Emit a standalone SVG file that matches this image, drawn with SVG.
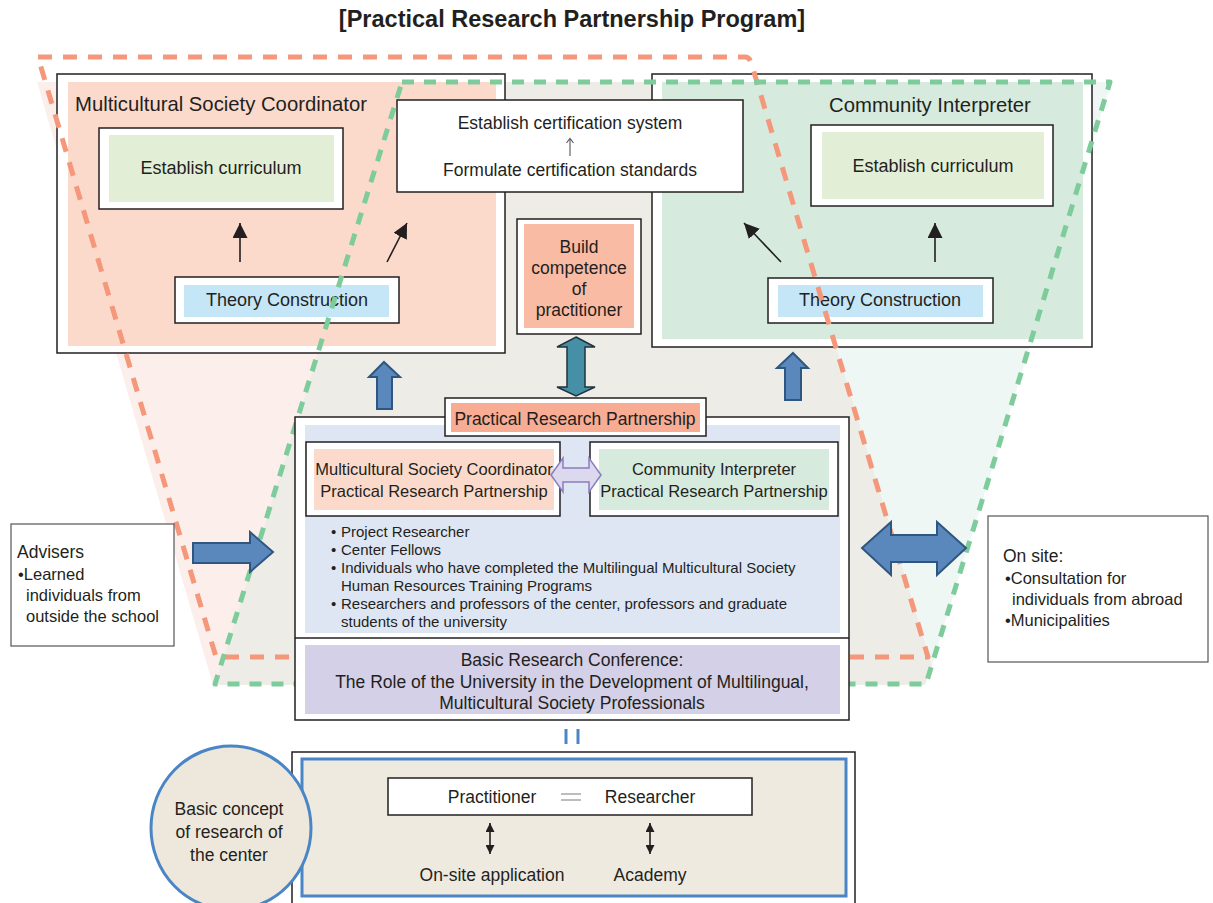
<svg xmlns="http://www.w3.org/2000/svg" width="1213" height="903" viewBox="0 0 1213 903">
<style>
text{font-family:"Liberation Sans",Arial,sans-serif;fill:#231F20}
.t18{font-size:18px}
.t17{font-size:17.5px}
.t16{font-size:16.5px}
.t15{font-size:15px}
.c{text-anchor:middle}
.box{fill:#fff;stroke:#231F20;stroke-width:1.5}
.dashO{fill:none;stroke:#F4977A;stroke-width:5;stroke-dasharray:14 11;stroke-linejoin:round}
.dashG{fill:none;stroke:#7ECB9B;stroke-width:5;stroke-dasharray:12 10;stroke-linejoin:round}
.blk{stroke:#231F20;stroke-width:1.6;fill:none}
.blue{fill:#5A88BC;stroke:#2F5680;stroke-width:2}
</style>
<defs>
<marker id="ah" viewBox="0 0 10 10" refX="10" refY="5" markerWidth="15" markerHeight="15" markerUnits="userSpaceOnUse" orient="auto-start-reverse">
<path d="M0,0 L10,5 L0,10 Z" fill="#231F20"/>
</marker>
<marker id="ahs" viewBox="0 0 10 10" refX="10" refY="5" markerWidth="9" markerHeight="9" markerUnits="userSpaceOnUse" orient="auto-start-reverse">
<path d="M0,0 L10,5 L0,10 Z" fill="#231F20"/>
</marker>
</defs>
<rect width="1213" height="903" fill="#fff"/>
<text x="572" y="27" class="c" style="font-size:23.5px;font-weight:bold">[Practical Research Partnership Program]</text>

<g id="zones">
<polygon points="37,82 402,82 216,685 213,685" fill="#FCEFEB"/>
<polygon points="402,82 757,82 932,665 925,685 215,685" fill="#EEECE6"/>
<polygon points="757,82 1111,82 932,665" fill="#EEF7F3"/>
</g>

<g id="msc">
<rect x="57" y="74" width="448" height="279" class="box"/>
<rect x="68" y="82" width="428" height="264" fill="#FBDACC"/>
<text x="75" y="111" style="font-size:20.3px">Multicultural Society Coordinator</text>
</g>
<g id="msc-curriculum">
<rect x="99" y="128" width="244" height="81" class="box"/>
<rect x="109" y="135" width="225" height="67" fill="#E2EED6"/>
<text x="221" y="174" class="c t18">Establish curriculum</text>
</g>
<g id="msc-theory">
<rect x="175" y="277" width="224" height="46" class="box"/>
<rect x="184" y="285" width="205" height="32" fill="#C5E6F6"/>
<text x="287" y="306" class="c t18">Theory Construction</text>
</g>

<g id="ci">
<rect x="652" y="74" width="440" height="273" class="box"/>
<rect x="662" y="82" width="421" height="257" fill="#D6EBDD"/>
<text x="930" y="112" class="c" style="font-size:20.3px">Community Interpreter</text>
</g>
<g id="ci-curriculum">
<rect x="811" y="125" width="242" height="81" class="box"/>
<rect x="822" y="132" width="222" height="67" fill="#E2EED6"/>
<text x="933" y="172" class="c t18">Establish curriculum</text>
</g>
<g id="ci-theory">
<rect x="768" y="278" width="225" height="45" class="box"/>
<rect x="778" y="285" width="205" height="32" fill="#C5E6F6"/>
<text x="880" y="306" class="c t18">Theory Construction</text>
</g>

<g id="certification">
<rect x="397" y="100" width="346" height="92" class="box"/>
<text x="570" y="129" class="c t17">Establish certification system</text>
<line x1="570" y1="156" x2="570" y2="139" stroke="#555" stroke-width="1.1"/>
<polyline points="566.5,143 570,138.5 573.5,143" fill="none" stroke="#555" stroke-width="1.1"/>
<text x="570" y="176" class="c t17">Formulate certification standards</text>
</g>

<g id="build">
<rect x="517" y="219" width="124" height="115" class="box"/>
<rect x="524" y="224" width="110" height="104" fill="#F9BBA3"/>
<text x="579" y="253" class="c t17">Build</text>
<text x="579" y="274" class="c t17">competence</text>
<text x="579" y="295" class="c t17">of</text>
<text x="579" y="316" class="c t17">practitioner</text>
</g>

<g id="connectors">
<line x1="240" y1="262" x2="240" y2="223" class="blk" marker-end="url(#ah)"/>
<line x1="387" y1="262" x2="407" y2="223" class="blk" marker-end="url(#ah)"/>
<line x1="935" y1="262" x2="935" y2="223" class="blk" marker-end="url(#ah)"/>
<line x1="781" y1="262" x2="744" y2="223" class="blk" marker-end="url(#ah)"/>
</g>

<g id="outlines">
<path d="M38,57 L745,57 Q749,57 751,62 L928,657 L216,657 Z" class="dashO"/>
<path d="M402,82 L1110,82 L926,684 L215,684 Z" class="dashG"/>
</g>

<g id="arrows">
<polygon points="384,362 400,377 392,377 392,409 377,409 377,377 369,377" class="blue"/>
<polygon points="793,353 808,368 801,368 801,400 785,400 785,368 777,368" class="blue"/>
<polygon points="576,337 595,347 585,347 585,387 595,387 576,396 557,387 567,387 567,347 557,347" fill="#4590A6" stroke="#22333D" stroke-width="1.5"/>
<polygon points="193,543 250,543 250,532 273,552 250,572 250,563 193,563" class="blue"/>
<polygon points="862,548 891,522 891,535 937,535 937,522 966,548 937,575 937,562 891,562 891,575" class="blue"/>
</g>

<g id="partnership">
<rect x="295" y="417" width="554" height="303" class="box"/>
<rect x="305" y="425" width="535" height="208" fill="#DFE6F3"/>
<line x1="295" y1="638" x2="849" y2="638" stroke="#231F20" stroke-width="1.5"/>
<rect x="305" y="645" width="535" height="69" fill="#D3D0E7"/>
<text x="572" y="666" class="c t17">Basic Research Conference:</text>
<text x="572" y="688" class="c t17">The Role of the University in the Development of Multilingual,</text>
<text x="572" y="709" class="c t17">Multicultural Society Professionals</text>
<text x="331" y="537" class="t15">•</text>
<text x="341" y="537" class="t15">Project Researcher</text>
<text x="331" y="555" class="t15">•</text>
<text x="341" y="555" class="t15">Center Fellows</text>
<text x="331" y="573" class="t15">•</text>
<text x="341" y="573" class="t15">Individuals who have completed the Multilingual Multicultural Society</text>
<text x="341" y="591" class="t15">Human Resources Training Programs</text>
<text x="331" y="609" class="t15">•</text>
<text x="341" y="609" class="t15">Researchers and professors of the center, professors and graduate</text>
<text x="341" y="627" class="t15">students of the university</text>
</g>
<g id="prp-label">
<rect x="445" y="398" width="261" height="38" class="box"/>
<rect x="451" y="403" width="249" height="29" fill="#F7AC93"/>
<text x="575" y="425" class="c t17">Practical Research Partnership</text>
</g>
<g id="msc-prp">
<rect x="306" y="442" width="254" height="74" class="box"/>
<rect x="314" y="449" width="240" height="61" fill="#FBDACC"/>
<text x="434" y="475" class="c t16">Multicultural Society Coordinator</text>
<text x="434" y="497" class="c t16">Practical Research Partnership</text>
</g>
<g id="ci-prp">
<rect x="590" y="442" width="248" height="74" class="box"/>
<rect x="599" y="449" width="230" height="61" fill="#D6EBDD"/>
<text x="714" y="475" class="c t16">Community Interpreter</text>
<text x="714" y="497" class="c t16">Practical Research Partnership</text>
</g>
<g id="link-arrow">
<polygon points="551,475 563,458 563,468 589,468 589,458 601,475 589,492 589,482 563,482 563,492" fill="#DCD8EE" stroke="#8A7DBE" stroke-width="1.5"/>
</g>

<g id="advisers">
<rect x="11" y="524" width="163" height="122" fill="#fff" stroke="#555" stroke-width="1.2"/>
<text x="17" y="558" style="font-size:17.5px">Advisers</text>
<text x="18" y="580" class="t16">•Learned</text>
<text x="26" y="601" class="t16">individuals from</text>
<text x="26" y="622" class="t16">outside the school</text>
</g>

<g id="onsite">
<rect x="988" y="516" width="220" height="146" fill="#fff" stroke="#555" stroke-width="1.2"/>
<text x="1003" y="562" style="font-size:17.5px">On site:</text>
<text x="1005" y="584" class="t16">•Consultation for</text>
<text x="1012" y="605" class="t16">individuals from abroad</text>
<text x="1005" y="626" class="t16">•Municipalities</text>
</g>

<g id="equals-link">
<line x1="566" y1="729" x2="566" y2="744" stroke="#4A86C5" stroke-width="3"/>
<line x1="578" y1="729" x2="578" y2="744" stroke="#4A86C5" stroke-width="3"/>
</g>

<g id="concept">
<rect x="292" y="752" width="563" height="160" class="box"/>
<rect x="302" y="759" width="544" height="137" fill="#EEEAE0" stroke="#4A86C5" stroke-width="3"/>
<rect x="388" y="778" width="364" height="37" fill="#fff" stroke="#231F20" stroke-width="1.5"/>
<text x="492" y="803" class="c t17">Practitioner</text>
<line x1="561" y1="794" x2="581" y2="794" stroke="#999" stroke-width="1.3"/>
<line x1="561" y1="800" x2="581" y2="800" stroke="#999" stroke-width="1.3"/>
<text x="650" y="803" class="c t17">Researcher</text>
<line x1="490" y1="823" x2="490" y2="854" class="blk" marker-start="url(#ahs)" marker-end="url(#ahs)"/>
<line x1="650" y1="823" x2="650" y2="854" class="blk" marker-start="url(#ahs)" marker-end="url(#ahs)"/>
<text x="492" y="881" class="c t17">On-site application</text>
<text x="650" y="881" class="c t17">Academy</text>
</g>

<g id="basic-concept">
<ellipse cx="231" cy="828" rx="80" ry="82" fill="#EEE8DC" stroke="#4A86C5" stroke-width="3"/>
<text x="229" y="815" class="c t17">Basic concept</text>
<text x="229" y="838" class="c t17">of research of</text>
<text x="229" y="861" class="c t17">the center</text>
</g>
</svg>
